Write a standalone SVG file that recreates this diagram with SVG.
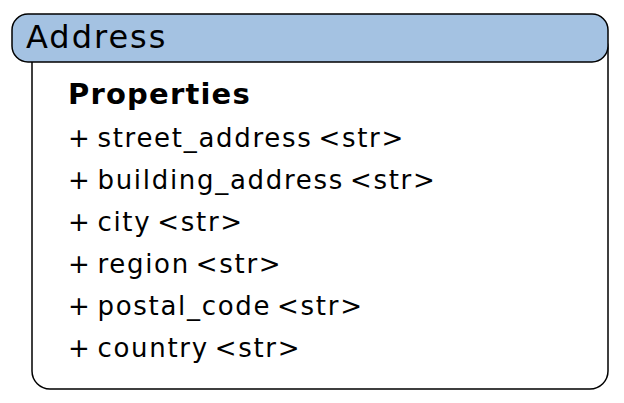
<svg xmlns="http://www.w3.org/2000/svg" width="624" height="403" viewBox="0 0 624 403">
<style>
.box{fill:#ffffff;stroke:#000000;stroke-width:1.5}
.hdr{fill:#a4c2e2;stroke:#000000;stroke-width:1.5}
.t{font-family:"DejaVu Sans","Noto Sans",sans-serif;fill:#000000}
.title{font-size:32px;letter-spacing:2px}
.sec{font-size:29px;font-weight:bold;letter-spacing:1.2px}
.item{font-size:26px;letter-spacing:1.7px;word-spacing:-4px}
</style>
<g id="address">
<rect class="box" x="32" y="30" width="576" height="359" rx="18" ry="18"/>
<rect class="hdr" x="12" y="14" width="596" height="48" rx="16" ry="16"/>
<text class="t title" x="26" y="48">Address</text>
<text class="t sec" x="68" y="104">Properties</text>
<text class="t item" x="68" y="147">+ street_address &lt;str&gt;</text>
<text class="t item" x="68" y="189">+ building_address &lt;str&gt;</text>
<text class="t item" x="68" y="231">+ city &lt;str&gt;</text>
<text class="t item" x="68" y="273">+ region &lt;str&gt;</text>
<text class="t item" x="68" y="315">+ postal_code &lt;str&gt;</text>
<text class="t item" x="68" y="357">+ country &lt;str&gt;</text>
</g>
<g id="connectors"/>
</svg>
